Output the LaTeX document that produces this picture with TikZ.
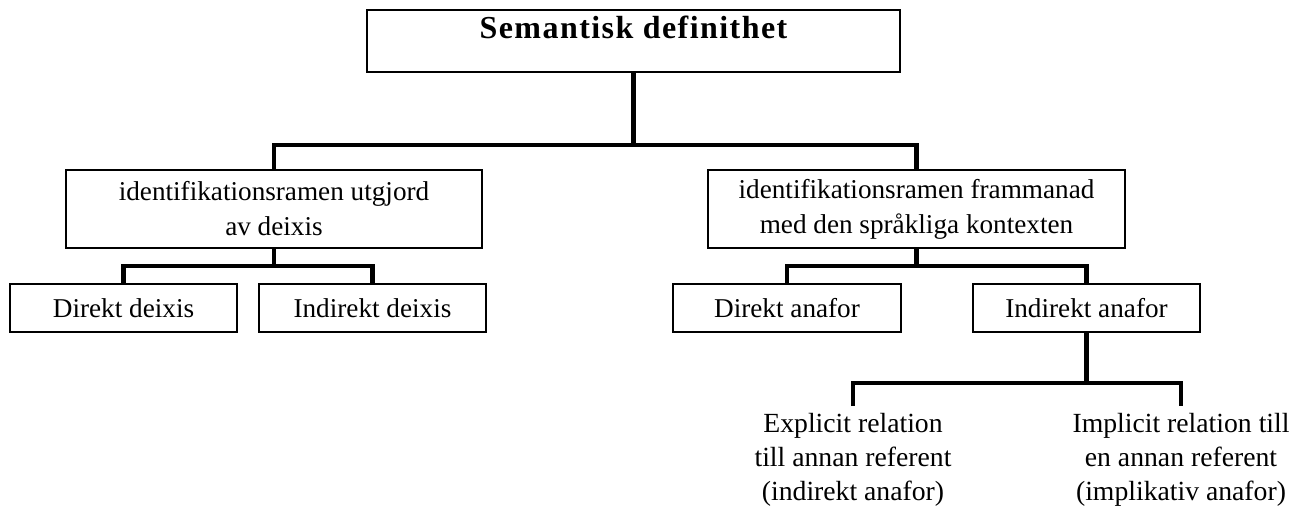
\documentclass[tikz,border=0pt]{standalone}
\usepackage{fontspec}
\setmainfont{Liberation Serif}
\newfontfamily\titlefont[LetterSpace=4.5]{Liberation Serif}

\begin{document}
\begin{tikzpicture}[x=0.5pt,y=-0.5pt]
\tikzset{
  catbox/.style={draw,line width=0.8pt,inner sep=0pt,align=center,font=\fontsize{13.6pt}{17.5pt}\selectfont},
  leaftext/.style={anchor=north,inner xsep=0pt,inner ysep=3.5pt,align=center,font=\fontsize{13.85pt}{17pt}\selectfont},
  branch/.style={line width=2.3pt}
}
\useasboundingbox (0,0) rectangle (1300,508);
\node[catbox,minimum width=266.5pt,text height=14.5pt,text depth=16.5pt,font=\fontsize{16pt}{18pt}\selectfont\titlefont\bfseries] (n_sem) at (633.5,41) {Semantisk definithet};
\node[catbox,minimum width=208pt,minimum height=39pt] (n_ramL) at (274,209) {identifikationsramen utgjord\\av deixis};
\node[catbox,minimum width=208.5pt,minimum height=39pt] (n_ramR) at (916.5,209) {identifikationsramen frammanad\\med den språkliga kontexten};
\node[catbox,minimum width=113.5pt,minimum height=24pt] (n_dirD) at (123.5,308) {Direkt deixis};
\node[catbox,minimum width=113.5pt,minimum height=24pt] (n_indD) at (372.5,308) {Indirekt deixis};
\node[catbox,minimum width=114pt,minimum height=24pt] (n_dirA) at (787,308) {Direkt anafor};
\node[catbox,minimum width=113.5pt,minimum height=24pt] (n_indA) at (1086.5,308) {Indirekt anafor};
\node[leaftext] (n_expl) at (853,406) {Explicit relation\\till annan referent\\(indirekt anafor)};
\node[leaftext] (n_impl) at (1181,406) {Implicit relation till\\en annan referent\\(implikativ anafor)};
\coordinate (c_top) at (633.5,145);
\coordinate (c_deix) at (274,266);
\coordinate (c_anaf) at (916.5,266);
\coordinate (c_rel) at (1086.5,383);
% first level
\draw[branch] (n_sem.south) -- (c_top);
\draw[branch] (n_ramL.north) |- (c_top) -| (n_ramR.north);
% deixis
\draw[branch] (n_ramL.south) -- (c_deix);
\draw[branch] (n_dirD.north) |- (c_deix) -| (n_indD.north);
% anafor
\draw[branch] (n_ramR.south) -- (c_anaf);
\draw[branch] (n_dirA.north) |- (c_anaf) -| (n_indA.north);
% indirekt anafor
\draw[branch] (n_indA.south) -- (c_rel);
\draw[branch] (n_expl.north) |- (c_rel) -| (n_impl.north);
\end{tikzpicture}
\end{document}
